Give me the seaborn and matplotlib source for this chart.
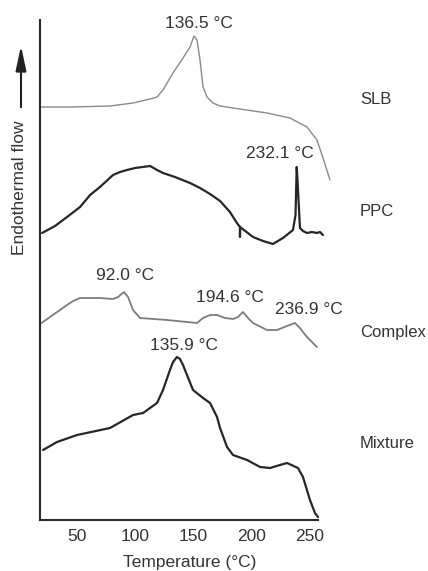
import numpy as np
import pandas as pd
import matplotlib
matplotlib.use("Agg")
import matplotlib.pyplot as plt
import seaborn as sns

# ---- data (arbitrary endothermal-flow units incl. offset) ----
slb_T = [18.2, 44.0, 78.3, 98.1, 112.7, 118.7, 123.8, 132.4, 141.0, 147.0, 150.4, 153.0,
         155.6, 158.2, 161.6, 166.7, 172.8, 183.9, 213.1, 232.8, 247.4, 256.0, 261.2, 267.2]
slb_v = [413, 413, 414, 417, 421, 423, 430, 447, 462, 473, 484, 480,
         460, 433, 423, 417, 414, 412, 407, 402, 393, 380, 362, 340]

ppc_T = [20.0, 31.1, 41.4, 52.6, 61.2, 69.7, 80.9, 86.9, 92.9, 99.8, 112.7, 118.7, 123.8,
         134.1, 147.0, 155.6, 164.2, 172.8, 181.3, 187.3, 189.9, 189.9, 190.0, 201.1, 209.7,
         218.2, 226.8, 235.4, 237.6, 238.6, 239.3, 241.4, 244.0, 247.4, 251.7, 256.0, 258.6, 261.2]
ppc_v = [287, 294, 303, 313, 325, 333, 345, 348, 350, 352, 354, 350, 347,
         343, 337, 332, 326, 319, 308, 297, 293, 283, 293, 283, 279,
         276, 282, 290, 305, 353, 340, 292, 289, 287, 288, 287, 288, 285]

cpx_T = [18.2, 26.8, 35.4, 41.4, 46.6, 52.6, 69.7, 80.9, 85.2, 90.3, 93.8, 98.1, 104.1, 127.3,
         153.0, 158.2, 164.2, 170.2, 177.0, 183.9, 188.2, 192.5, 196.8, 201.1, 213.1, 221.7,
         230.3, 237.1, 241.4, 247.4, 256.0]
cpx_v = [196, 203, 210, 215, 219, 222, 222, 221, 223, 228, 223, 210, 202, 200,
         197, 202, 205, 205, 202, 201, 203, 208, 202, 197, 190, 190,
         194, 197, 192, 183, 173]

mix_T = [20.8, 32.8, 50.0, 78.3, 98.1, 106.7, 118.7, 123.8, 129.8, 132.4, 135.8, 138.4,
         141.0, 144.4, 149.6, 158.2, 164.2, 170.2, 172.8, 178.8, 183.9, 196.0, 207.1, 215.7,
         224.3, 230.3, 239.7, 244.0, 250.0, 254.3, 256.9]
mix_v = [70, 78, 85, 92, 105, 107, 117, 130, 150, 158, 163, 161,
         155, 145, 130, 122, 117, 103, 92, 73, 65, 60, 53, 52,
         55, 57, 52, 43, 20, 7, 3]

samples = ["SLB", "PPC", "Complex", "Mixture"]
x_ticks = [50, 100, 150, 200, 250]

peak_labels = ["136.5 °C", "232.1 °C", "92.0 °C", "194.6 °C", "236.9 °C", "135.9 °C"]
peak_T = [154.7, 224.3, 91.2, 181.3, 249.2, 141.8]
peak_v = [497, 366, 244, 222, 211, 174]

sample_label_T = 293.0
sample_label_v = [420, 308, 188, 77]

# ---- build table ----
frames = []
for name, T, v in zip(samples, [slb_T, ppc_T, cpx_T, mix_T], [slb_v, ppc_v, cpx_v, mix_v]):
    frames.append(pd.DataFrame({"T": T, "v": v, "sample": name}))
df = pd.concat(frames, ignore_index=True)

sns.set_style("white")
plt.rcParams["font.family"] = ["Liberation Sans", "DejaVu Sans"]

W, H = 428, 571
fig = plt.figure(figsize=(W / 100, H / 100), dpi=100)
ax = fig.add_axes([40 / W, 51 / H, 278 / W, 500 / H])

styles = {
    "SLB": dict(color="#8a8a8a", lw=1.0),
    "PPC": dict(color="#262626", lw=1.6),
    "Complex": dict(color="#7c7c7c", lw=1.3),
    "Mixture": dict(color="#262626", lw=1.6),
}
for name in samples:
    sub = df[df["sample"] == name]
    sns.lineplot(data=sub, x="T", y="v", ax=ax, estimator=None, sort=False,
                 color=styles[name]["color"], linewidth=styles[name]["lw"])
for line in ax.lines:
    line.set_clip_on(False)
    line.set_solid_joinstyle("round")

ax.set_xlim(18.2, 256.9)
ax.set_ylim(0, 500)
ax.set_xticks(x_ticks)
ax.set_xticklabels([str(t) for t in x_ticks])
ax.set_xticks(np.arange(20, 256, 5), minor=True)
ax.set_yticks([])
ax.set_xlabel("")
ax.set_ylabel("")
for s in ["top", "right"]:
    ax.spines[s].set_visible(False)
for s in ["left", "bottom"]:
    ax.spines[s].set_color("#2a2a2a")
    ax.spines[s].set_linewidth(1.5)
ax.tick_params(axis="x", which="major", length=2.5, width=0.8, direction="out",
               pad=4, labelsize=12.5, colors="#2a2a2a", labelcolor="#333333")
ax.tick_params(axis="x", which="minor", length=1.5, width=0.6, direction="out",
               colors="#555555")

for lab, tx, ty in zip(peak_labels, peak_T, peak_v):
    ax.text(tx, ty, lab, ha="center", va="center", fontsize=12.5, color="#333333",
            clip_on=False)
for lab, ty in zip(samples, sample_label_v):
    ax.text(sample_label_T, ty, lab, ha="left", va="center", fontsize=12,
            color="#333333", clip_on=False)

fig.text(190 / W, 9 / H, "Temperature (°C)", ha="center", va="center",
         fontsize=12.5, color="#333333")
fig.text(20 / W, 1 - 188 / H, "Endothermal flow", ha="center", va="center",
         rotation=90, fontsize=12.5, color="#333333")
fig.add_artist(matplotlib.patches.FancyArrowPatch(
    (21 / W, 1 - 110 / H), (21 / W, 1 - 43 / H), transform=fig.transFigure,
    arrowstyle="-|>,head_length=0.75,head_width=0.16", mutation_scale=20,
    color="#222222", lw=1.5))

fig.savefig("out.png", dpi=100)
